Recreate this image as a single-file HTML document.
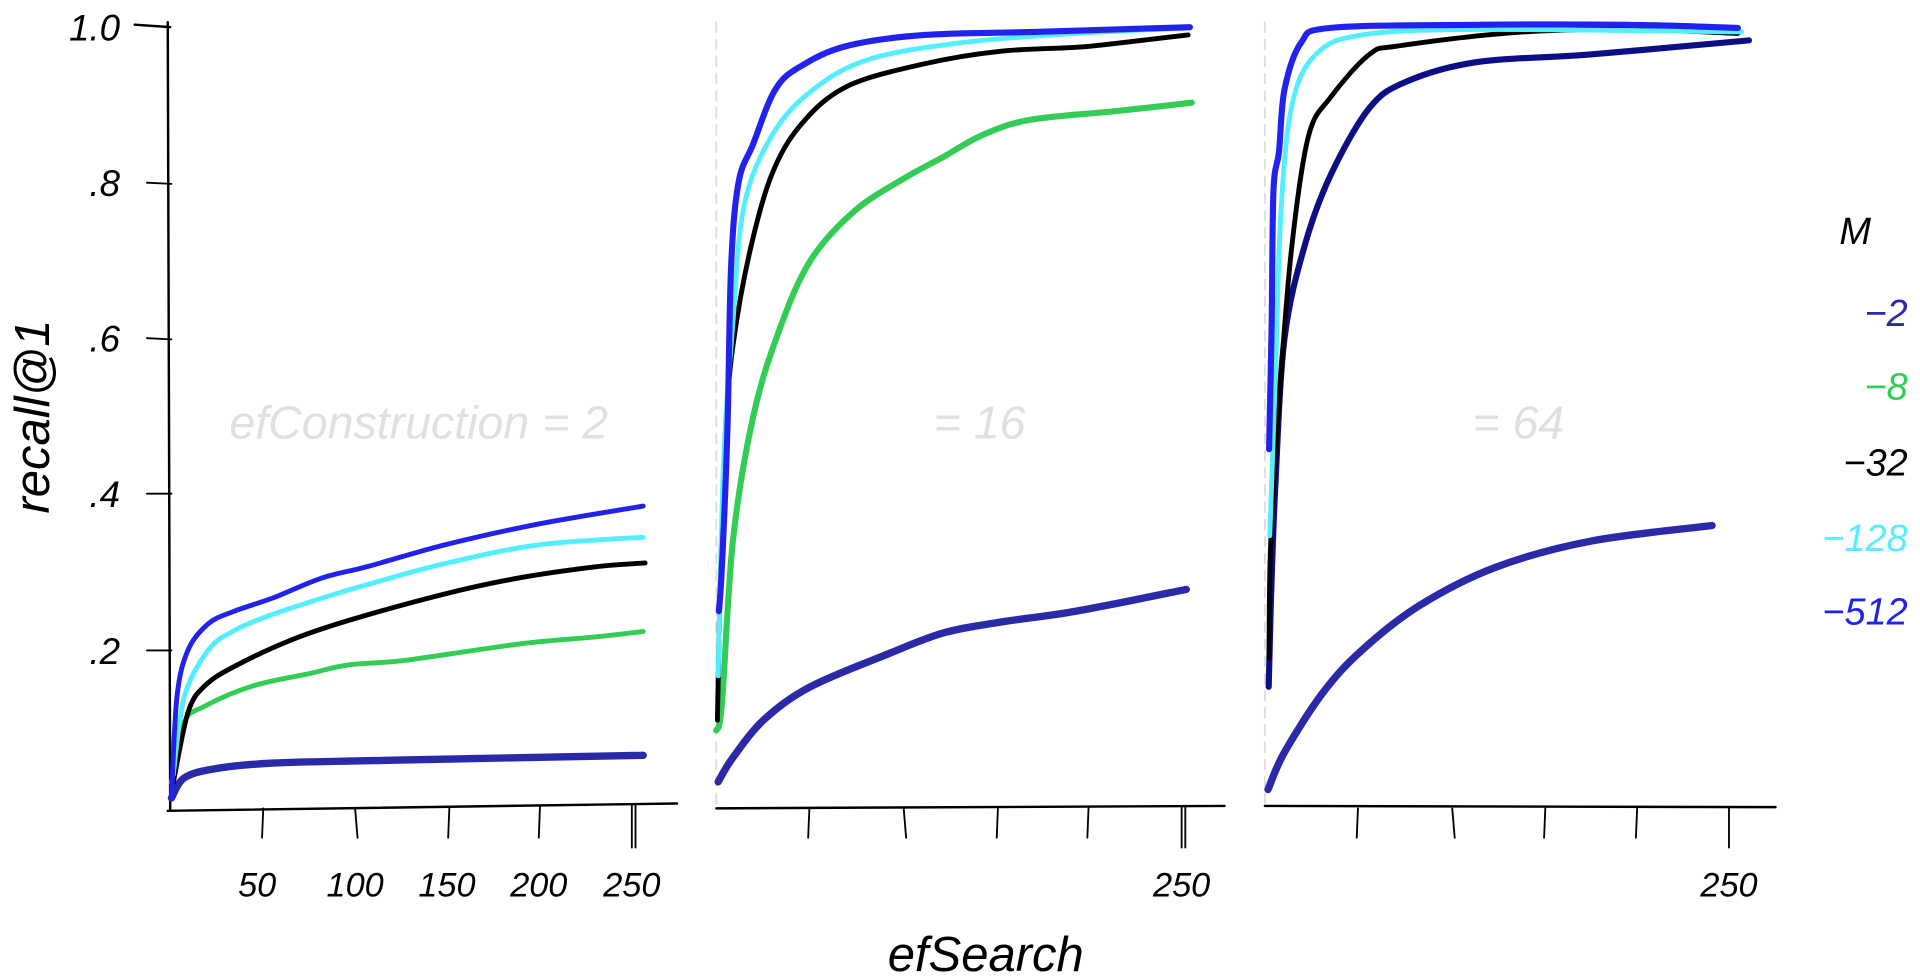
<!DOCTYPE html>
<html><head><meta charset="utf-8"><style>
html,body{margin:0;padding:0;background:#fff;width:1920px;height:980px;overflow:hidden}
svg{display:block}
text{font-family:"Liberation Sans",sans-serif;font-style:italic}
</style></head><body>
<svg id="s" width="1920" height="980" viewBox="0 0 1568 800" xmlns="http://www.w3.org/2000/svg">
<g fill="none" stroke-linecap="round" stroke-linejoin="round">
<path d="M137 18 L139 662 M110 20 L139 22" stroke="#000" stroke-width="2"/>
<path d="M120 149 L140 150 M120 276 L140 277 M120 403 L140 403 M120 531 L140 531" stroke="#000" stroke-width="1.5"/>
<path d="M137 662 L553 656" stroke="#000" stroke-width="2"/>
<path d="M215 660 L214 684 M290 660 L292 684 M367 659 L366 684 M441 658 L440 684 M516 657 L516 692 M519 657 L519 692" stroke="#000" stroke-width="1.5"/>
<path d="M585 18 L585 660" stroke="#ddd" stroke-width="1.5" stroke-dasharray="8 6"/>
<path d="M585 660 L1000 658" stroke="#000" stroke-width="2"/>
<path d="M661 660 L660 684 M738 660 L740 684 M815 659 L814 684 M889 659 L888 684 M965 658 L965 692 M968 658 L968 692" stroke="#000" stroke-width="1.5"/>
<path d="M1033 18 L1033 660" stroke="#ddd" stroke-width="1.5" stroke-dasharray="8 6"/>
<path d="M1033 658 L1450 659" stroke="#000" stroke-width="2"/>
<path d="M1109 660 L1108 684 M1186 660 L1188 684 M1262 660 L1261 684 M1337 660 L1336 684 M1412 659 L1412 692" stroke="#000" stroke-width="1.5"/>
<g id="lines"></g>
</g>
<g font-size="30" fill="#000" text-anchor="end">
<text x="98" y="33">1.0</text>
<text x="98" y="160">.8</text>
<text x="98" y="287">.6</text>
<text x="98" y="414">.4</text>
<text x="98" y="542">.2</text>
</g>
<g font-size="28" fill="#000" text-anchor="middle">
<text x="210" y="732">50</text>
<text x="290" y="732">100</text>
<text x="365" y="732">150</text>
<text x="440" y="732">200</text>
<text x="516" y="732">250</text>
<text x="965" y="732">250</text>
<text x="1412" y="732">250</text>
</g>
<g font-size="38" fill="#e0e0e0" text-anchor="middle">
<text x="342" y="358">efConstruction = 2</text>
<text x="800" y="358">= 16</text>
<text x="1240" y="358">= 64</text>
</g>
<text x="805" y="793" font-size="40" text-anchor="middle" fill="#000">efSearch</text>
<text transform="translate(40,340) rotate(-90)" font-size="40" text-anchor="middle" fill="#000">recall@1</text>
<g font-size="31" text-anchor="end">
<text x="1528" y="199" fill="#000">M</text>
<text x="1558" y="266" fill="#2a2aa8">−2</text>
<text x="1558" y="326" fill="#33cc55">−8</text>
<text x="1558" y="388" fill="#000">−32</text>
<text x="1558" y="450" fill="#55eeff">−128</text>
<text x="1558" y="510" fill="#2222ee">−512</text>
</g>
</svg>
<script>
var X0=[140,585,1034];
var series=[
[0,"#2a2aa8",6,[[0,0.01],[7,0.036],[24,0.048],[55,0.055],[106,0.058],[168,0.061],[256,0.065]]],
[0,"#33cc55",4,[[0,0.03],[7,0.107],[18,0.128],[44,0.154],[75,0.17],[96,0.181],[127,0.187],[189,0.208],[230,0.217],[256,0.224]]],
[0,"#000",4,[[1,0.03],[9,0.12],[18,0.154],[34,0.179],[65,0.213],[96,0.238],[148,0.272],[189,0.293],[230,0.307],[257,0.312]]],
[0,"#55eeff",4,[[1,0.04],[7,0.14],[20,0.2],[34,0.225],[55,0.246],[86,0.27],[106,0.284],[148,0.311],[199,0.335],[256,0.345]]],
[0,"#2222ee",4,[[0,0.01],[3,0.14],[9,0.2],[20,0.234],[34,0.25],[55,0.267],[82,0.293],[106,0.307],[148,0.335],[199,0.362],[256,0.385]]],
[1,"#2a2aa8",6,[[1,0.031],[9,0.062],[26,0.111],[51,0.153],[92,0.194],[123,0.222],[154,0.236],[195,0.25],[255,0.278]]],
[1,"#33cc55",5,[[0,0.097],[3,0.13],[9,0.34],[20,0.5],[34,0.61],[51,0.70],[75,0.764],[102,0.806],[123,0.833],[144,0.861],[170,0.881],[216,0.892],[258,0.903]]],
[1,"#000",4,[[0.6,0.11],[2,0.27],[5,0.48],[9,0.59],[18,0.71],[30,0.81],[46,0.875],[71,0.924],[113,0.953],[154,0.969],[195,0.974],[216,0.979],[256,0.99]]],
[1,"#55eeff",4,[[1,0.167],[4,0.444],[9,0.62],[15,0.77],[30,0.86],[51,0.917],[82,0.958],[133,0.98],[195,0.992],[257,0.999]]],
[1,"#2222ee",5,[[1.4,0.25],[3,0.306],[6,0.48],[8,0.69],[12,0.80],[20,0.85],[32,0.92],[46,0.95],[71,0.976],[113,0.99],[175,0.994],[257,1.0]]],
[2,"#2a2aa8",6,[[1,0.021],[10,0.069],[31,0.146],[52,0.2],[83,0.257],[124,0.306],[176,0.34],[242,0.36]]],
[2,"#0d0d85",5,[[1.4,0.153],[2.5,0.257],[5,0.41],[10,0.6],[21,0.72],[35,0.81],[56,0.896],[76,0.93],[114,0.955],[176,0.965],[262,0.983]]],
[2,"#000",4,[[1.6,0.19],[2.5,0.34],[8,0.55],[14,0.72],[23,0.86],[35,0.91],[56,0.965],[72,0.976],[134,0.993],[196,0.997],[256,0.992]]],
[2,"#55eeff",4,[[2,0.347],[5,0.55],[8,0.76],[14,0.9],[27,0.965],[52,0.99],[114,0.997],[258,0.994]]],
[2,"#2222ee",5,[[1.6,0.458],[3,0.618],[4,0.79],[7,0.84],[10,0.92],[19,0.98],[35,0.999],[114,1.003],[196,1.003],[256,0.999]]]
];
var g=document.getElementById("lines"),h="";
series.forEach(function(s){
 var p=s[3].map(function(d){return [X0[s[0]]+d[0]*1.505,658-d[1]*636];});
 var d="M"+p[0][0].toFixed(1)+" "+p[0][1].toFixed(1);
 for(var i=0;i<p.length-1;i++){
  var a=p[i-1]||p[i],b=p[i],c=p[i+1],e=p[i+2]||c;
  var c1=[b[0]+(c[0]-a[0])/6,b[1]+(c[1]-a[1])/6],c2=[c[0]-(e[0]-b[0])/6,c[1]-(e[1]-b[1])/6];
  d+=" C"+c1[0].toFixed(1)+" "+c1[1].toFixed(1)+" "+c2[0].toFixed(1)+" "+c2[1].toFixed(1)+" "+c[0].toFixed(1)+" "+c[1].toFixed(1);
 }
 h+='<path d="'+d+'" stroke="'+s[1]+'" stroke-width="'+s[2]+'"/>';
});
g.innerHTML=h;
</script>
</body></html>
